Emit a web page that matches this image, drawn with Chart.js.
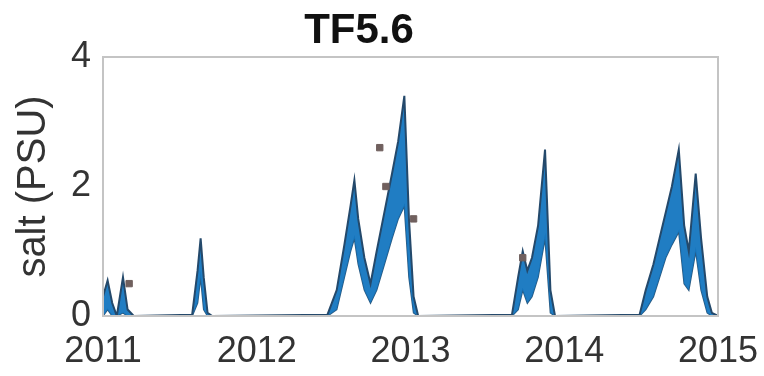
<!DOCTYPE html>
<html>
<head>
<meta charset="utf-8">
<script src="https://cdn.jsdelivr.net/npm/chart.js@4/dist/chart.umd.min.js"></script>
<style>
  html, body { margin: 0; padding: 0; background: #fff; }
  #wrap { width: 764px; height: 376px; }
</style>
</head>
<body>
<div id="wrap"><canvas id="salt-chart" width="764" height="376"></canvas></div>
<script>
// model time (decimal year) with upper/lower salinity envelope
const modelTime = [
  2011.00, 2011.03, 2011.06, 2011.09, 2011.13, 2011.16, 2011.20,
  2011.58, 2011.615, 2011.635, 2011.655, 2011.68, 2011.71,
  2012.46, 2012.52, 2012.57, 2012.61, 2012.635, 2012.66, 2012.70, 2012.74,
  2012.78, 2012.83, 2012.88, 2012.92, 2012.96, 2012.99, 2013.02, 2013.05,
  2013.66, 2013.70, 2013.73, 2013.76, 2013.79, 2013.83, 2013.875, 2013.91, 2013.94,
  2014.49, 2014.53, 2014.58, 2014.62, 2014.66, 2014.70, 2014.745, 2014.78,
  2014.81, 2014.855, 2014.89, 2014.93, 2014.96, 2015.00
];
const saltUpper = [
  0.30, 0.55, 0.20, 0.00, 0.60, 0.10, 0.00,
  0.02, 0.70, 1.20, 0.60, 0.05, 0.00,
  0.02, 0.40, 1.10, 1.70, 2.10, 1.50, 0.90, 0.50,
  1.00, 1.60, 2.20, 2.70, 3.40, 1.50, 0.30, 0.00,
  0.02, 0.60, 1.00, 0.70, 0.90, 1.40, 2.57, 0.40, 0.00,
  0.02, 0.40, 0.80, 1.20, 1.60, 2.00, 2.57, 1.40,
  1.00, 2.20, 1.20, 0.30, 0.05, 0.00
];
const saltLower = [
  0.00, 0.10, 0.00, 0.00, 0.05, 0.00, 0.00,
  0.00, 0.20, 0.60, 0.10, 0.00, 0.00,
  0.00, 0.10, 0.60, 1.00, 1.20, 0.80, 0.40, 0.20,
  0.40, 0.80, 1.20, 1.50, 1.70, 0.60, 0.05, 0.00,
  0.00, 0.10, 0.40, 0.20, 0.30, 0.60, 1.20, 0.05, 0.00,
  0.00, 0.10, 0.30, 0.60, 0.90, 1.10, 1.30, 0.50,
  0.40, 1.00, 0.40, 0.05, 0.00, 0.00
];

// observations
const obsTime = [2011.17, 2012.80, 2012.84, 2013.02, 2013.73];
const obsSalt = [0.50, 2.60, 2.00, 1.50, 0.90];

const yearTicks = [2011, 2012, 2013, 2014, 2015];
const saltTicks = [0, 2, 4];

const toPoints = (xs, ys) => xs.map((x, i) => ({ x: x, y: ys[i] }));

const fontFamily = '"Liberation Sans", Arial, Helvetica, sans-serif';
const tickColor = '#333';

// draws the remaining top/right sides of the axes box
const boxPlugin = {
  id: 'axesBox',
  afterDraw(chart) {
    const { ctx, chartArea } = chart;
    ctx.save();
    ctx.strokeStyle = '#c4c4c4';
    ctx.lineWidth = 2;
    ctx.strokeRect(chartArea.left, chartArea.top,
      chartArea.right - chartArea.left, chartArea.bottom - chartArea.top);
    ctx.restore();
  },
};

new Chart(document.getElementById('salt-chart'), {
  type: 'line',
  data: {
    datasets: [
      {
        label: 'upper',
        data: toPoints(modelTime, saltUpper),
        borderColor: '#24496b',
        borderWidth: 2,
        backgroundColor: 'rgba(20,118,192,0.95)',
        fill: '+1',
        pointRadius: 0,
        tension: 0,
        order: 2,
      },
      {
        label: 'lower',
        data: toPoints(modelTime, saltLower),
        borderColor: '#2b5a80',
        borderWidth: 1.5,
        fill: false,
        pointRadius: 0,
        tension: 0,
        order: 2,
      },
      {
        type: 'scatter',
        label: 'obs',
        data: toPoints(obsTime, obsSalt),
        pointStyle: 'rect',
        pointRadius: 4.5,
        backgroundColor: '#70605e',
        borderColor: '#70605e',
        order: 1,
      },
    ],
  },
  options: {
    responsive: false,
    animation: false,
    layout: { padding: { left: 0, right: 46, top: 0, bottom: 0 } },
    plugins: {
      legend: { display: false },
      tooltip: { enabled: false },
      title: {
        display: true,
        text: 'TF5.6',
        color: '#111',
        font: { family: fontFamily, size: 42, weight: 'bold', lineHeight: 1.0 },
        padding: { top: 10, bottom: 5 },
      },
    },
    scales: {
      x: {
        type: 'linear',
        min: 2011,
        max: 2015,
        afterBuildTicks: (scale) => { scale.ticks = yearTicks.map((v) => ({ value: v })); },
        ticks: {
          color: tickColor,
          font: { family: fontFamily, size: 36 },
          padding: 14,
          maxRotation: 0,
          callback: (v) => String(v),
        },
        grid: { display: false, drawTicks: false },
        border: { color: '#c4c4c4', width: 2 },
        afterFit: (scale) => {
          scale.height = 60;
          // let the end labels overhang; the layout padding sets the plot edge
          scale.paddingLeft = 0;
          scale.paddingRight = 0;
        },
      },
      y: {
        min: 0,
        max: 4,
        afterBuildTicks: (scale) => { scale.ticks = saltTicks.map((v) => ({ value: v })); },
        ticks: {
          color: tickColor,
          font: { family: fontFamily, size: 36 },
          padding: 12,
        },
        title: {
          display: true,
          text: 'salt (PSU)',
          color: tickColor,
          font: { family: fontFamily, size: 40 },
          padding: { top: 10, bottom: 0 },
        },
        grid: { display: false, drawTicks: false },
        border: { color: '#c4c4c4', width: 2 },
        afterFit: (scale) => { scale.width = 103; },
      },
    },
  },
  plugins: [boxPlugin],
});
</script>
</body>
</html>
